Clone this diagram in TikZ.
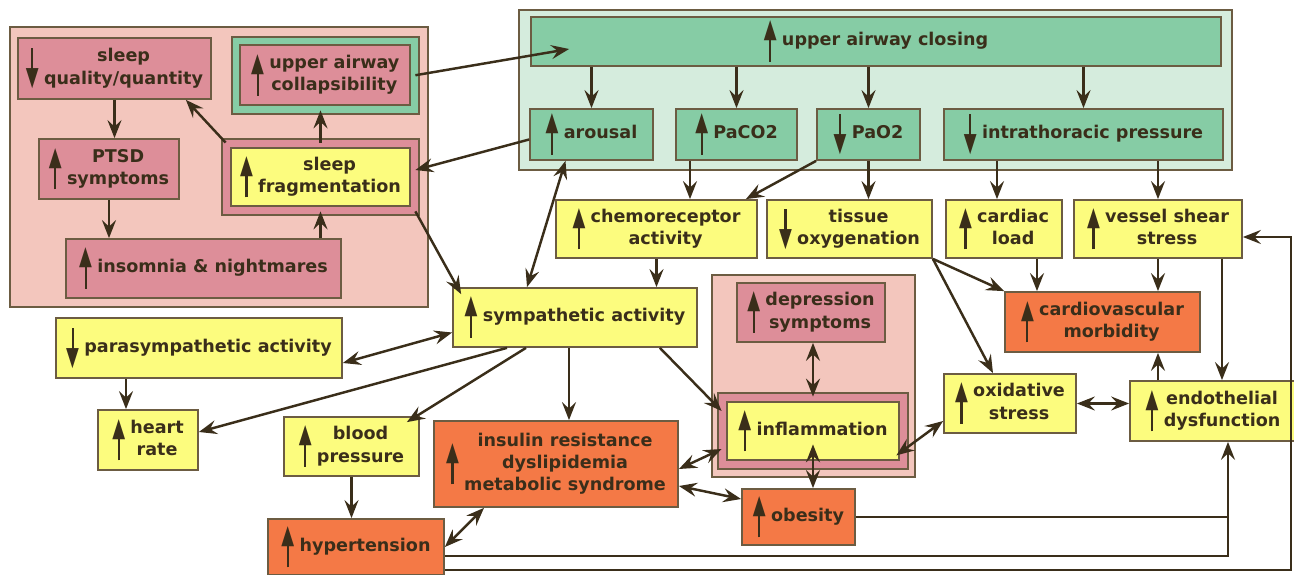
\documentclass[tikz,border=0pt]{standalone}
\usepackage{fontspec}
\setmainfont{DejaVu Sans}
\usepackage{graphicx}
\usetikzlibrary{arrows.meta}

\definecolor{panelpink}{RGB}{243,198,189}
\definecolor{panelmint}{RGB}{213,236,221}
\definecolor{sleepfill}{RGB}{221,142,153}
\definecolor{airfill}{RGB}{134,204,165}
\definecolor{effectfill}{RGB}{252,252,126}
\definecolor{diseasefill}{RGB}{244,121,70}
\definecolor{rimcolor}{RGB}{108,92,66}
\definecolor{ink}{RGB}{58,46,26}

\newcommand{\incr}{$\vcenter{\offinterlineskip\halign{\hfil##\hfil\cr
    \mdseries\scalebox{0.95}[1.5]{▲}\cr\noalign{\vskip-1.2pt}\rule{1.2pt}{13pt}\cr}}$\hspace{3pt}}
\newcommand{\decr}{$\vcenter{\offinterlineskip\halign{\hfil##\hfil\cr
    \rule{1.2pt}{13pt}\cr\noalign{\vskip-1.2pt}\mdseries\scalebox{0.95}[1.5]{▼}\cr}}$\hspace{3pt}}
\newcommand{\boxtext}[1]{\begin{tabular}{@{}c@{}}#1\end{tabular}}

\begin{document}
\begin{tikzpicture}[>={Stealth[length=3.6mm, width=2.8mm, inset=1.3mm]},
    box/.style={draw=rimcolor, line width=1pt, text=ink, inner xsep=3pt, inner ysep=2pt,
        font=\bfseries\fontsize{10}{12.8}\selectfont},
    sleepbox/.style={box, fill=sleepfill}, airbox/.style={box, fill=airfill},
    effect/.style={box, fill=effectfill}, disease/.style={box, fill=diseasefill},
    framed/.style={double=#1, double distance=1.3mm},
    panel/.style={draw=rimcolor, line width=1pt},
    wh/.style 2 args={minimum width=#1cm, minimum height=#2cm},
    link/.style={draw=ink, line width=1.4pt}]
    \useasboundingbox (0,0) rectangle (25.88,-11.5);

    \node(sleep-panel)[panel, fill=panelpink, wh={8.36}{5.60}] at (4.38,-3.34) {};
    \node(airway-panel)[panel, fill=panelmint, wh={14.26}{3.20}] at (17.51,-1.80) {};
    \node(mood-panel)[panel, fill=panelpink, wh={4.06}{4.04}] at (16.27,-7.52) {};

    \node(sleep-quality)[sleepbox, wh={3.86}{1.22}] at (2.29,-1.37)
        {\decr\boxtext{sleep\\quality/quantity}};
    \node(collapsibility)[sleepbox, framed=airfill, wh={3.57}{1.37}] at (6.505,-1.505)
        {\incr\boxtext{upper airway\\collapsibility}};
    \node(fragmentation)[effect, framed=sleepfill, wh={3.76}{1.34}] at (6.41,-3.54)
        {\incr\boxtext{sleep\\fragmentation}};
    \node(ptsd)[sleepbox, wh={2.80}{1.20}] at (2.18,-3.38) {\incr\boxtext{PTSD\\symptoms}};
    \node(insomnia)[sleepbox, wh={5.50}{1.18}] at (4.07,-5.37) {\incr insomnia \& nightmares};

    \node(closing)[airbox, wh={13.80}{0.98}] at (17.52,-0.83) {\incr upper airway closing};
    \node(arousal)[airbox, wh={2.46}{1.02}] at (11.83,-2.69) {\incr arousal};
    \node(paco)[airbox, wh={2.42}{1.02}] at (14.73,-2.69) {\incr PaCO2};
    \node(pao)[airbox, wh={2.06}{1.02}] at (17.37,-2.69) {\decr PaO2};
    \node(thoracic)[airbox, wh={5.58}{1.02}] at (21.67,-2.69) {\decr intrathoracic pressure};

    \node(chemoreceptor)[effect, wh={4.02}{1.16}] at (13.13,-4.58) {\incr\boxtext{chemoreceptor\\activity}};
    \node(tissue)[effect, wh={3.30}{1.16}] at (16.99,-4.58) {\decr\boxtext{tissue\\oxygenation}};
    \node(cardiac)[effect, wh={2.32}{1.16}] at (20.08,-4.58) {\incr\boxtext{cardiac\\load}};
    \node(shear)[effect, wh={3.36}{1.16}] at (23.16,-4.58) {\incr\boxtext{vessel shear\\stress}};

    \node(sympathetic)[effect, wh={4.88}{1.18}] at (11.50,-6.35) {\incr sympathetic activity};
    \node(parasympathetic)[effect, wh={5.72}{1.20}] at (3.98,-6.96) {\decr parasympathetic activity};
    \node(heart-rate)[effect, wh={2.00}{1.20}] at (2.96,-8.80) {\incr\boxtext{heart\\rate}};
    \node(blood-pressure)[effect, wh={2.70}{1.18}] at (7.03,-8.93) {\incr\boxtext{blood\\pressure}};
    \node(insulin)[disease, wh={4.88}{1.72}] at (11.12,-9.28)
        {\incr\boxtext{insulin resistance\\dyslipidemia\\metabolic syndrome}};
    \node(hypertension)[disease, wh={3.52}{1.12}] at (7.12,-10.94) {\incr hypertension};

    \node(depression)[sleepbox, wh={2.96}{1.18}] at (16.22,-6.25) {\incr\boxtext{depression\\symptoms}};
    \node(inflammation)[effect, framed=sleepfill, wh={3.62}{1.34}] at (16.26,-8.62) {\incr inflammation};
    \node(obesity)[disease, wh={2.26}{1.12}] at (15.97,-10.34) {\incr obesity};
    \node(cardiovascular)[disease, wh={3.90}{1.20}] at (22.05,-6.44) {\incr\boxtext{cardiovascular\\morbidity}};
    \node(oxidative)[effect, wh={2.64}{1.18}] at (20.20,-8.07) {\incr\boxtext{oxidative\\stress}};
    \node(endothelial)[effect, wh={3.32}{1.20}] at (24.26,-8.22) {\incr\boxtext{endothelial\\dysfunction}};

    \coordinate(joint) at ([xshift=3mm]endothelial.south);
    \coordinate(rim-line) at (25.82,-8);

    \draw[link, ->] (sleep-quality.south) -- (sleep-quality.south |- ptsd.north);
    \draw[link, ->] (ptsd.south) -- (ptsd.south |- insomnia.north);
    \draw[link, ->] (fragmentation.south |- insomnia.north) -- (fragmentation.south);
    \draw[link, ->] (fragmentation.north) -- (fragmentation.north |- collapsibility.south);
    \draw[link, ->] (fragmentation.north west) -- ([xshift=-5.2mm]sleep-quality.south east);
    \draw[link, ->] (fragmentation.south east) -- ([shift={(1.8mm,-1.4mm)}]sympathetic.north west);
    \draw[link, ->] (collapsibility.east) -- ([shift={(7.8mm,-1.5mm)}]closing.west);
    \draw[link, ->] ([yshift=-1mm]arousal.west) -- ([yshift=1.4mm]fragmentation.east);

    \draw[link, ->] (arousal.north |- closing.south) -- (arousal.north);
    \draw[link, ->] (paco.north |- closing.south) -- (paco.north);
    \draw[link, ->] (pao.north |- closing.south) -- (pao.north);
    \draw[link, ->] (thoracic.north |- closing.south) -- (thoracic.north);

    \draw[link, ->] ([xshift=-9.3mm]paco.south) -- ([xshift=-9.3mm]paco.south |- chemoreceptor.north);
    \draw[link, ->] (pao.south west) -- ([xshift=-2.4mm]chemoreceptor.north east);
    \draw[link, ->] (pao.south) -- (pao.south |- tissue.north);
    \draw[link, ->] ([xshift=-1.4mm]cardiac.north |- thoracic.south) -- ([xshift=-1.4mm]cardiac.north);
    \draw[link, ->] (shear.north |- thoracic.south) -- (shear.north);
    \draw[link, <->] ([xshift=-5.2mm]arousal.south) -- ([xshift=-9.6mm]sympathetic.north);
    \draw[link, ->] (chemoreceptor.south) -- (chemoreceptor.south |- sympathetic.north);

    \draw[link, ->] (tissue.south east) -- (cardiovascular.north west);
    \draw[link, ->] (tissue.south east) -- ([xshift=-3.4mm]oxidative.north);
    \draw[link, ->] ([xshift=6.6mm]cardiac.south) -- ([xshift=6.6mm]cardiac.south |- cardiovascular.north);
    \draw[link, ->] (shear.south) -- (shear.south |- cardiovascular.north);
    \draw[link, ->] ([xshift=12.8mm]shear.south) -- ([xshift=12.8mm]shear.south |- endothelial.north);
    \draw[link, ->] (shear.south |- endothelial.north) -- (shear.south |- cardiovascular.south);
    \draw[link, <->] (oxidative.east) -- (oxidative.east -| endothelial.west);
    \draw[link, <->] ([shift={(-1.6mm,2mm)}]inflammation.south east) -- ([yshift=-3.5mm]oxidative.west);
    \draw[link, <->] (inflammation.north |- depression.south) -- (inflammation.north);
    \draw[link, <->] ([yshift=4.2mm]inflammation.south) -- (inflammation.south |- obesity.north);

    \draw[link, ->] ([xshift=-7.6mm]sympathetic.south east) -- ([yshift=4mm]inflammation.west);
    \draw[link, <->] ([yshift=-1mm]insulin.east) -- ([yshift=-3.6mm]inflammation.west);
    \draw[link, <->] ([yshift=-4.4mm]insulin.east) -- ([yshift=3.6mm]obesity.west);
    \draw[link, ->] ([xshift=-1.2mm]sympathetic.south) -- ([xshift=-1.2mm]sympathetic.south |- insulin.north);
    \draw[link, ->] ([xshift=-9.8mm]sympathetic.south) -- ([shift={(-2.6mm,-1.2mm)}]blood-pressure.north east);
    \draw[link, ->] ([xshift=-13.6mm]sympathetic.south) -- ([yshift=1.6mm]heart-rate.east);
    \draw[link, <->] ([yshift=-3mm]parasympathetic.east) -- ([yshift=-3mm]sympathetic.west);
    \draw[link, ->] ([xshift=-4.4mm]heart-rate.north |- parasympathetic.south) -- ([xshift=-4.4mm]heart-rate.north);
    \draw[link, ->] (blood-pressure.south) -- (blood-pressure.south |- hypertension.north);
    \draw[link, <->] (hypertension.east) -- ([xshift=-14.4mm]insulin.south);

    \draw[link] (obesity.east) -- (obesity.east -| joint);
    \draw[link, ->] ([yshift=-1.8mm]hypertension.east) -| (joint);
    \draw[link, ->] ([yshift=-4.6mm]hypertension.east) -| (rim-line) |- ([yshift=-1.6mm]shear.east);
\end{tikzpicture}
\end{document}
